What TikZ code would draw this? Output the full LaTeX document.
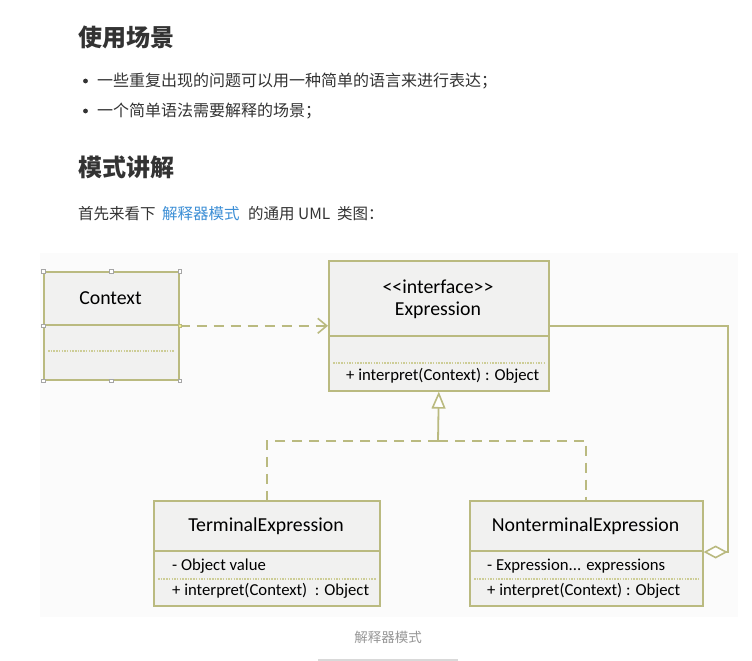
\documentclass[tikz,border=0pt]{standalone}
\usepackage{fontspec}
\setmainfont{Carlito}
\newfontfamily\cjk{Noto Sans CJK SC}
\usetikzlibrary{arrows.meta,shadows}
\definecolor{olive}{RGB}{186,186,128}
\definecolor{olivelt}{RGB}{205,205,150}
\definecolor{boxfill}{RGB}{241,241,240}
\definecolor{txt}{RGB}{51,51,51}
\definecolor{link}{RGB}{61,143,214}
\definecolor{capgray}{RGB}{150,150,150}
\tikzset{
  cls/.style={draw=olive, line width=1.6pt, fill=boxfill, anchor=north west, inner sep=0pt,
    drop shadow={opacity=0.18, shadow xshift=1.5pt, shadow yshift=-1.5pt}},
  sep/.style={draw=olive, line width=1.4pt},
  dotsep/.style={draw=olivelt, line width=1.2pt, dash pattern=on 1.5pt off 1.2pt},
  lbl/.style={font=\fontsize{19.8}{22}\selectfont, text=black, inner sep=0pt},
  mem/.style={font=\fontsize{16.7}{18}\selectfont, text=black, inner sep=0pt, anchor=west},
  conn/.style={draw=olive, line width=1.8pt},
  dconn/.style={conn, dash pattern=on 10pt off 7pt},
  handle/.style={draw=gray!70, fill=white, line width=0.5pt, minimum size=3.5pt, inner sep=0pt},
  hdr/.style={font=\cjk\bfseries\fontsize{24}{26}\selectfont, text=txt, anchor=west, inner sep=0pt},
  body/.style={font=\cjk\fontsize{16}{18}\selectfont, text=txt, anchor=west, inner sep=0pt},
  intro/.style={font=\cjk\fontsize{15.5}{18}\selectfont, text=txt, anchor=west, inner sep=0pt},
}
\begin{document}
\begin{tikzpicture}[x=1pt,y=-1pt]
\useasboundingbox (0,0) rectangle (752,661);
\fill[white] (0,0) rectangle (752,661);
\fill[black!1.5] (40,253) rectangle (738,617);
% text above
\node[hdr] (h1) at (78,37) {使用场景};
\fill[txt] (85.5,81) circle (2.4pt);
\fill[txt] (85.5,111) circle (2.4pt);
\node[body] (b1) at (97,81) {一些重复出现的问题可以用一种简单的语言来进行表达；};
\node[body] (b2) at (97,111) {一个简单语法需要解释的场景；};
\node[hdr] (h2) at (78,167) {模式讲解};
\node[intro] (i1) at (78,214) {首先来看下};
\node[intro, text=link] (i2) at (162,214) {解释器模式};
\node[intro] (i3) at (248,214) {的通用};
\node[intro] (i4) at (298,214) {UML};
\node[intro] (i5) at (337,214) {类图：};
% Context
\node[cls, minimum width=135pt, minimum height=108pt] (ctx) at (43,271) {};
\draw[sep] ([yshift=-54pt]ctx.north west) -- ([yshift=-54pt]ctx.north east);
\draw[dotsep] ([xshift=5pt,yshift=-80pt]ctx.north west) -- ([xshift=-5pt,yshift=-80pt]ctx.north east);
\node[lbl] (ctxn) at (110.5,298) {Context};
% Expression
\node[cls, minimum width=220pt, minimum height=130pt] (expr) at (328,260) {};
\draw[sep] ([yshift=-76pt]expr.north west) -- ([yshift=-76pt]expr.north east);
\draw[dotsep] ([xshift=5pt,yshift=-103pt]expr.north west) -- ([xshift=-5pt,yshift=-103pt]expr.north east);
\node[lbl] (expri) at (438,287) {<{}<interface>{}>};
\node[lbl] (exprn) at (438,310) {Expression};
\node[mem] (exprm) at (346,376) {+ interpret(Context) : Object};
% TerminalExpression
\node[cls, minimum width=226pt, minimum height=105pt] (term) at (153,500) {};
\draw[sep] ([yshift=-51pt]term.north west) -- ([yshift=-51pt]term.north east);
\draw[dotsep] ([xshift=5pt,yshift=-79pt]term.north west) -- ([xshift=-5pt,yshift=-79pt]term.north east);
\node[lbl] (termn) at (266,526) {TerminalExpression};
\node[mem] (terma) at (172,566) {- Object value};
\node[mem] (termm) at (172,591) {+ interpret(Context)\ \ : Object};
% NonterminalExpression
\node[cls, minimum width=233pt, minimum height=105pt] (nont) at (469,500) {};
\draw[sep] ([yshift=-51pt]nont.north west) -- ([yshift=-51pt]nont.north east);
\draw[dotsep] ([xshift=5pt,yshift=-79pt]nont.north west) -- ([xshift=-5pt,yshift=-79pt]nont.north east);
\node[lbl] (nontn) at (585.5,526) {NonterminalExpression};
\node[mem] (nonta) at (487,566) {- Expression... expressions};
\node[mem] (nontm) at (487,591) {+ interpret(Context) : Object};
% dependency
\draw[dconn, -{Straight Barb[length=9pt,width=15pt,line width=1.6pt]}] (ctx.east) -- (expr.west);
% generalization
\coordinate (j) at (438,441);
\draw[conn, -{Triangle[open,fill=white,length=17pt,width=14pt,line width=1.6pt]}] (j) -- (expr.south);
\draw[dconn] (j) -| (term.north);
\draw[dconn] (j) -| (nont.north);
% aggregation
\coordinate (ae) at ([yshift=-52pt]nont.north east);
\draw[conn, {Diamond[open,fill=white,length=24pt,width=13pt,line width=1.6pt]}-] (ae) -- ++(24,0) |- (expr.east);
% handles
\foreach \p [count=\i] in {north west,north,north east,west,south west,south,south east}
  \node[handle] (hd\i) at (ctx.\p) {};
\node[handle, fill=yellow!70!olive!60, draw=olive] (hde) at (ctx.east) {};
% caption
\node[font=\cjk\fontsize{13.5}{16}\selectfont, text=capgray, inner sep=0pt] (cap) at (388,637) {解释器模式};
\draw[black!15, line width=1.5pt] (318,660) -- (458,660);
\end{tikzpicture}
\end{document}
